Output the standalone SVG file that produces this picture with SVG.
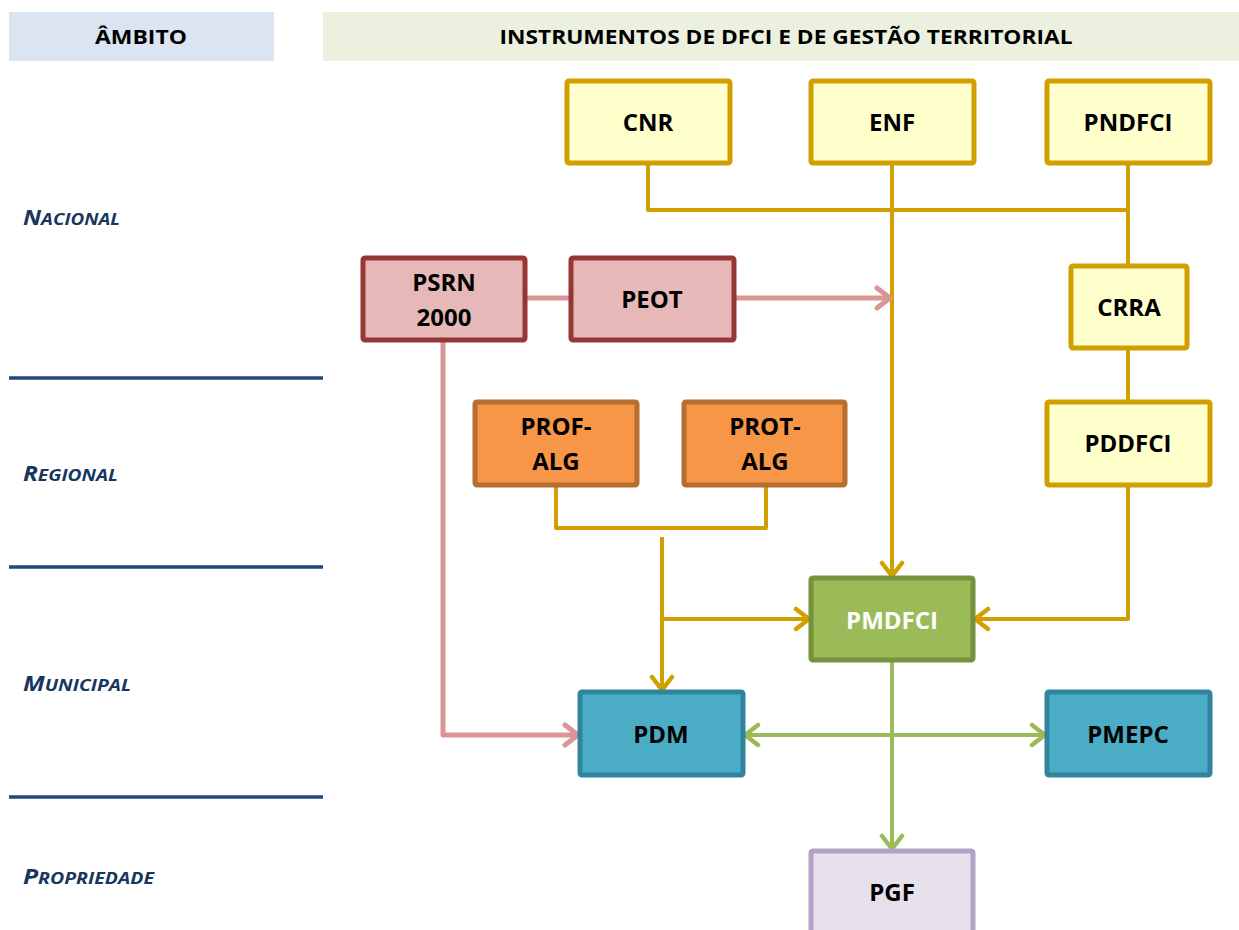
<svg xmlns="http://www.w3.org/2000/svg" width="1239" height="930" viewBox="0 0 1239 930">
<defs>
<style>
.t{font-family:"Open Sans","Liberation Sans",sans-serif;font-weight:bold;font-size:24px;text-anchor:middle;fill:#000}
.h{font-family:"Open Sans","Liberation Sans",sans-serif;font-weight:bold;font-size:19px;text-anchor:middle;fill:#000}
.lv{font-family:"Open Sans","Liberation Sans",sans-serif;font-weight:bold;font-style:italic;fill:#17375e}
.big{font-size:21px}
.sm{font-size:16.5px}
.sep{stroke:#1f497d;stroke-width:3.5}
.yl{fill:#ffffcc;stroke:#d29f00;stroke-width:5}
.pk{fill:#e6b9b8;stroke:#953735;stroke-width:5}
.or{fill:#f79646;stroke:#b66d31;stroke-width:5}
.gr{fill:#9bbb59;stroke:#76923c;stroke-width:5}
.bl{fill:#4bacc6;stroke:#31849b;stroke-width:5}
.pu{fill:#e5e0ec;stroke:#b2a1c7;stroke-width:5}
.cy{fill:none;stroke:#d29f00;stroke-width:4;stroke-linejoin:round}
.cp{fill:none;stroke:#d99694;stroke-width:5;stroke-linejoin:round}
.cg{fill:none;stroke:#9bbb59;stroke-width:4;stroke-linejoin:round}
</style>
<marker id="ay" viewBox="0 0 26 26" refX="22" refY="13" markerWidth="26" markerHeight="26" markerUnits="userSpaceOnUse" orient="auto-start-reverse"><path d="M9,3 L22,13 L9,23" fill="none" stroke="#d29f00" stroke-width="4.5" stroke-linecap="round" stroke-linejoin="round"/></marker>
<marker id="ap" viewBox="0 0 26 26" refX="22" refY="13" markerWidth="26" markerHeight="26" markerUnits="userSpaceOnUse" orient="auto-start-reverse"><path d="M9,3 L22,13 L9,23" fill="none" stroke="#d99694" stroke-width="5" stroke-linecap="round" stroke-linejoin="round"/></marker>
<marker id="ag" viewBox="0 0 26 26" refX="22" refY="13" markerWidth="26" markerHeight="26" markerUnits="userSpaceOnUse" orient="auto-start-reverse"><path d="M9,3 L22,13 L9,23" fill="none" stroke="#9bbb59" stroke-width="4.5" stroke-linecap="round" stroke-linejoin="round"/></marker>
</defs>
<rect width="1239" height="930" fill="#ffffff"/>
<g id="header">
<rect x="9" y="12" width="265" height="49" fill="#dbe5f1"/>
<text class="h" x="141" y="44" textLength="92" lengthAdjust="spacingAndGlyphs">ÂMBITO</text>
<rect x="323" y="12" width="916" height="49" fill="#ebf1de"/>
<text class="h" x="786" y="44" textLength="573" lengthAdjust="spacingAndGlyphs">INSTRUMENTOS DE DFCI E DE GESTÃO TERRITORIAL</text>
</g>
<g id="levels">
<text class="lv" x="23" y="225" textLength="97" lengthAdjust="spacingAndGlyphs"><tspan class="big">N</tspan><tspan class="sm">ACIONAL</tspan></text>
<text class="lv" x="23" y="481" textLength="95" lengthAdjust="spacingAndGlyphs"><tspan class="big">R</tspan><tspan class="sm">EGIONAL</tspan></text>
<text class="lv" x="23" y="691" textLength="108" lengthAdjust="spacingAndGlyphs"><tspan class="big">M</tspan><tspan class="sm">UNICIPAL</tspan></text>
<text class="lv" x="23" y="884" textLength="131" lengthAdjust="spacingAndGlyphs"><tspan class="big">P</tspan><tspan class="sm">ROPRIEDADE</tspan></text>
<line class="sep" x1="9" y1="378" x2="323" y2="378"/>
<line class="sep" x1="9" y1="567" x2="323" y2="567"/>
<line class="sep" x1="9" y1="797" x2="323" y2="797"/>
</g>
<g id="connectors">
<path class="cy" d="M648,163 V210 H1128"/>
<path class="cy" d="M1128,163 V266"/>
<path class="cy" d="M1128,348 V402"/>
<path class="cy" d="M892,163 V576" marker-end="url(#ay)"/>
<path class="cy" d="M1128,485 V619 H975" marker-end="url(#ay)"/>
<path class="cy" d="M556,485 V528 H766 V485"/>
<path class="cy" d="M662,537 V690" marker-end="url(#ay)"/>
<path class="cy" d="M662,619 H809" marker-end="url(#ay)"/>
<path class="cp" d="M525,298 H571"/>
<path class="cp" d="M734,298 H890" marker-end="url(#ap)"/>
<path class="cp" d="M443,340 V735 H578" marker-end="url(#ap)"/>
<path class="cg" d="M892,660 V849" marker-end="url(#ag)"/>
<path class="cg" d="M745,735 H1045" marker-start="url(#ag)" marker-end="url(#ag)"/>
</g>
<g id="CNR"><rect class="yl" x="567" y="81" width="163" height="82" rx="2"/><text class="t" x="648" y="131">CNR</text></g>
<g id="ENF"><rect class="yl" x="811" y="81" width="163" height="82" rx="2"/><text class="t" x="892" y="131">ENF</text></g>
<g id="PNDFCI"><rect class="yl" x="1047" y="81" width="163" height="82" rx="2"/><text class="t" x="1128" y="131">PNDFCI</text></g>
<g id="CRRA"><rect class="yl" x="1071" y="266" width="116" height="82" rx="2"/><text class="t" x="1129" y="316">CRRA</text></g>
<g id="PDDFCI"><rect class="yl" x="1047" y="402" width="163" height="83" rx="2"/><text class="t" x="1128" y="452">PDDFCI</text></g>
<g id="PSRN2000"><rect class="pk" x="363" y="258" width="162" height="82" rx="2"/><text class="t" x="444" y="291">PSRN</text><text class="t" x="444" y="326">2000</text></g>
<g id="PEOT"><rect class="pk" x="571" y="258" width="163" height="82" rx="2"/><text class="t" x="652" y="308">PEOT</text></g>
<g id="PROF-ALG"><rect class="or" x="475" y="402" width="162" height="83" rx="2"/><text class="t" x="556" y="435">PROF-</text><text class="t" x="556" y="470">ALG</text></g>
<g id="PROT-ALG"><rect class="or" x="684" y="402" width="161" height="83" rx="2"/><text class="t" x="765" y="435">PROT-</text><text class="t" x="765" y="470">ALG</text></g>
<g id="PMDFCI"><rect class="gr" x="811" y="578" width="162" height="82" rx="2"/><text class="t" x="892" y="629" style="fill:#ffffff">PMDFCI</text></g>
<g id="PDM"><rect class="bl" x="580" y="692" width="163" height="83" rx="2"/><text class="t" x="661" y="743">PDM</text></g>
<g id="PMEPC"><rect class="bl" x="1047" y="692" width="163" height="83" rx="2"/><text class="t" x="1128" y="743">PMEPC</text></g>
<g id="PGF"><rect class="pu" x="811" y="851" width="162" height="84" rx="2"/><text class="t" x="892" y="901">PGF</text></g>
</svg>
